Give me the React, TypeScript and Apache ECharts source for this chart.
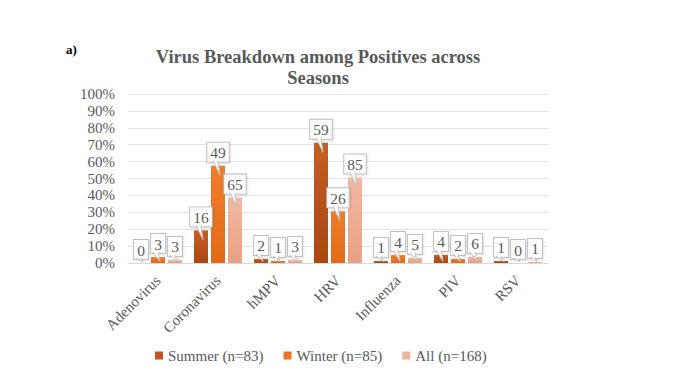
import React, { useEffect, useRef } from "react";
import * as echarts from "echarts";

const categories = ["Adenovirus", "Coronavirus", "hMPV", "HRV", "Influenza", "PIV", "RSV"];
const summerPct = [0, 19.3, 2.4, 71.1, 1.2, 4.8, 1.2];
const winterPct = [3.5, 57.6, 1.2, 30.6, 4.7, 2.4, 0];
const allPct = [1.8, 38.7, 1.8, 50.6, 3.0, 3.6, 0.6];
const summerCount = [0, 16, 2, 59, 1, 4, 1];
const winterCount = [3, 49, 1, 26, 4, 2, 0];
const allCount = [3, 65, 3, 85, 5, 6, 1];
const seriesNames = ["Summer (n=83)", "Winter (n=85)", "All (n=168)"];

const FONT = "'Liberation Serif', 'Times New Roman', serif";
const GREY = "#595959";
const BAR_W = 14;
const BAR_GAP = 3;
const LABEL_DIST = 4;

function grad(top: string, bottom: string) {
  return new echarts.graphic.LinearGradient(0, 0, 0, 1, [
    { offset: 0, color: top },
    { offset: 1, color: bottom },
  ]);
}

function makeSeries(name: string, pct: number[], counts: number[], color: any) {
  return {
    name,
    type: "bar",
    barWidth: BAR_W,
    barGap: (BAR_GAP / BAR_W) * 100 + "%",
    z: 2,
    data: pct,
    itemStyle: { color },
    label: {
      show: true,
      position: "top",
      distance: LABEL_DIST,
      formatter: (p: any) => String(counts[p.dataIndex]),
      fontFamily: FONT,
      fontSize: 15.5,
      color: GREY,
      backgroundColor: "#ffffff",
      borderColor: "#bfbfbf",
      borderWidth: 1,
      padding: [2, 3, 1, 3],
      shadowColor: "rgba(0,0,0,0.12)",
      shadowBlur: 2,
      shadowOffsetX: 1,
      shadowOffsetY: 1,
    },
  };
}

export default function App() {
  const ref = useRef<HTMLDivElement>(null);
  useEffect(() => {
    if (!ref.current) return;
    const chart = echarts.init(ref.current, undefined, { renderer: "svg" });
    const legendColors = ["#c0561d", "#ed7425", "#efb29c"];
    const seriesList = [
      makeSeries(seriesNames[0], summerPct, summerCount, grad("#c45f25", "#a9470f")),
      makeSeries(seriesNames[1], winterPct, winterCount, grad("#f07d2c", "#e26a15")),
      makeSeries(seriesNames[2], allPct, allCount, grad("#f2b8a2", "#e9a084")),
    ];
    const pctArrays = [summerPct, winterPct, allPct];
    const tailData: number[][] = [];
    pctArrays.forEach((arr, s) => arr.forEach((v, i) => tailData.push([i, v, s])));
    const tails = {
      type: "custom",
      z: 5,
      silent: true,
      data: tailData,
      encode: { x: 0, y: 1 },
      renderItem: (params: any, api: any) => {
        const i = api.value(0);
        const v = api.value(1);
        const s = api.value(2);
        const pt = api.coord([i, v]);
        const zeroY = api.coord([i, 0])[1];
        const x = pt[0] + (s - 1) * (BAR_W + BAR_GAP);
        const yb = pt[1] - LABEL_DIST - 0.5;
        const a = [x - 5, yb - 0.5];
        const b = [x, yb - 0.5];
        const tipY = Math.min(yb + 14, zeroY - 1.5);
        const tip = [x + 2, tipY];
        return {
          type: "group",
          children: [
            { type: "polygon", shape: { points: [a, b, tip] }, style: { fill: "#ffffff" } },
            {
              type: "polyline",
              shape: { points: [a, tip, b] },
              style: { stroke: "#bfbfbf", lineWidth: 1, fill: null },
            },
          ],
        };
      },
    };
    chart.setOption({
      animation: false,
      backgroundColor: "#ffffff",
      title: {
        text: "Virus Breakdown among Positives across\nSeasons",
        left: 313,
        top: 41,
        textAlign: "center",
        textStyle: {
          fontFamily: FONT,
          fontSize: 18.5,
          fontWeight: "bold",
          color: GREY,
          lineHeight: 21,
        },
      },
      graphic: [
        {
          type: "text",
          left: 66,
          top: 43,
          style: { text: "a)", fontFamily: FONT, fontSize: 13, fontWeight: "bold", fill: "#000" },
        },
      ],
      legend: {
        bottom: 14,
        left: 150,
        itemWidth: 8,
        itemHeight: 8,
        itemGap: 20,
        icon: "rect",
        textStyle: { fontFamily: FONT, fontSize: 15, color: GREY },
        data: seriesNames.map((n, i) => ({ name: n, itemStyle: { color: legendColors[i] } })),
      },
      grid: { left: 128, right: 132, top: 94, bottom: 119 },
      xAxis: {
        type: "category",
        data: categories,
        axisLine: { lineStyle: { color: "#d9d9d9" } },
        axisTick: { show: false },
        axisLabel: {
          rotate: 45,
          margin: 15,
          fontFamily: FONT,
          fontSize: 15,
          color: GREY,
        },
      },
      yAxis: {
        type: "value",
        min: 0,
        max: 100,
        interval: 10,
        axisLine: { show: false },
        axisTick: { show: false },
        axisLabel: {
          formatter: "{value}%",
          margin: 13,
          fontFamily: FONT,
          fontSize: 15,
          color: GREY,
        },
        splitLine: { lineStyle: { color: "#e3e3e3" } },
      },
      series: [...seriesList, tails],
    });
    return () => chart.dispose();
  }, []);
  return <div ref={ref} style={{ width: 680, height: 382, margin: -8 }} />;
}
